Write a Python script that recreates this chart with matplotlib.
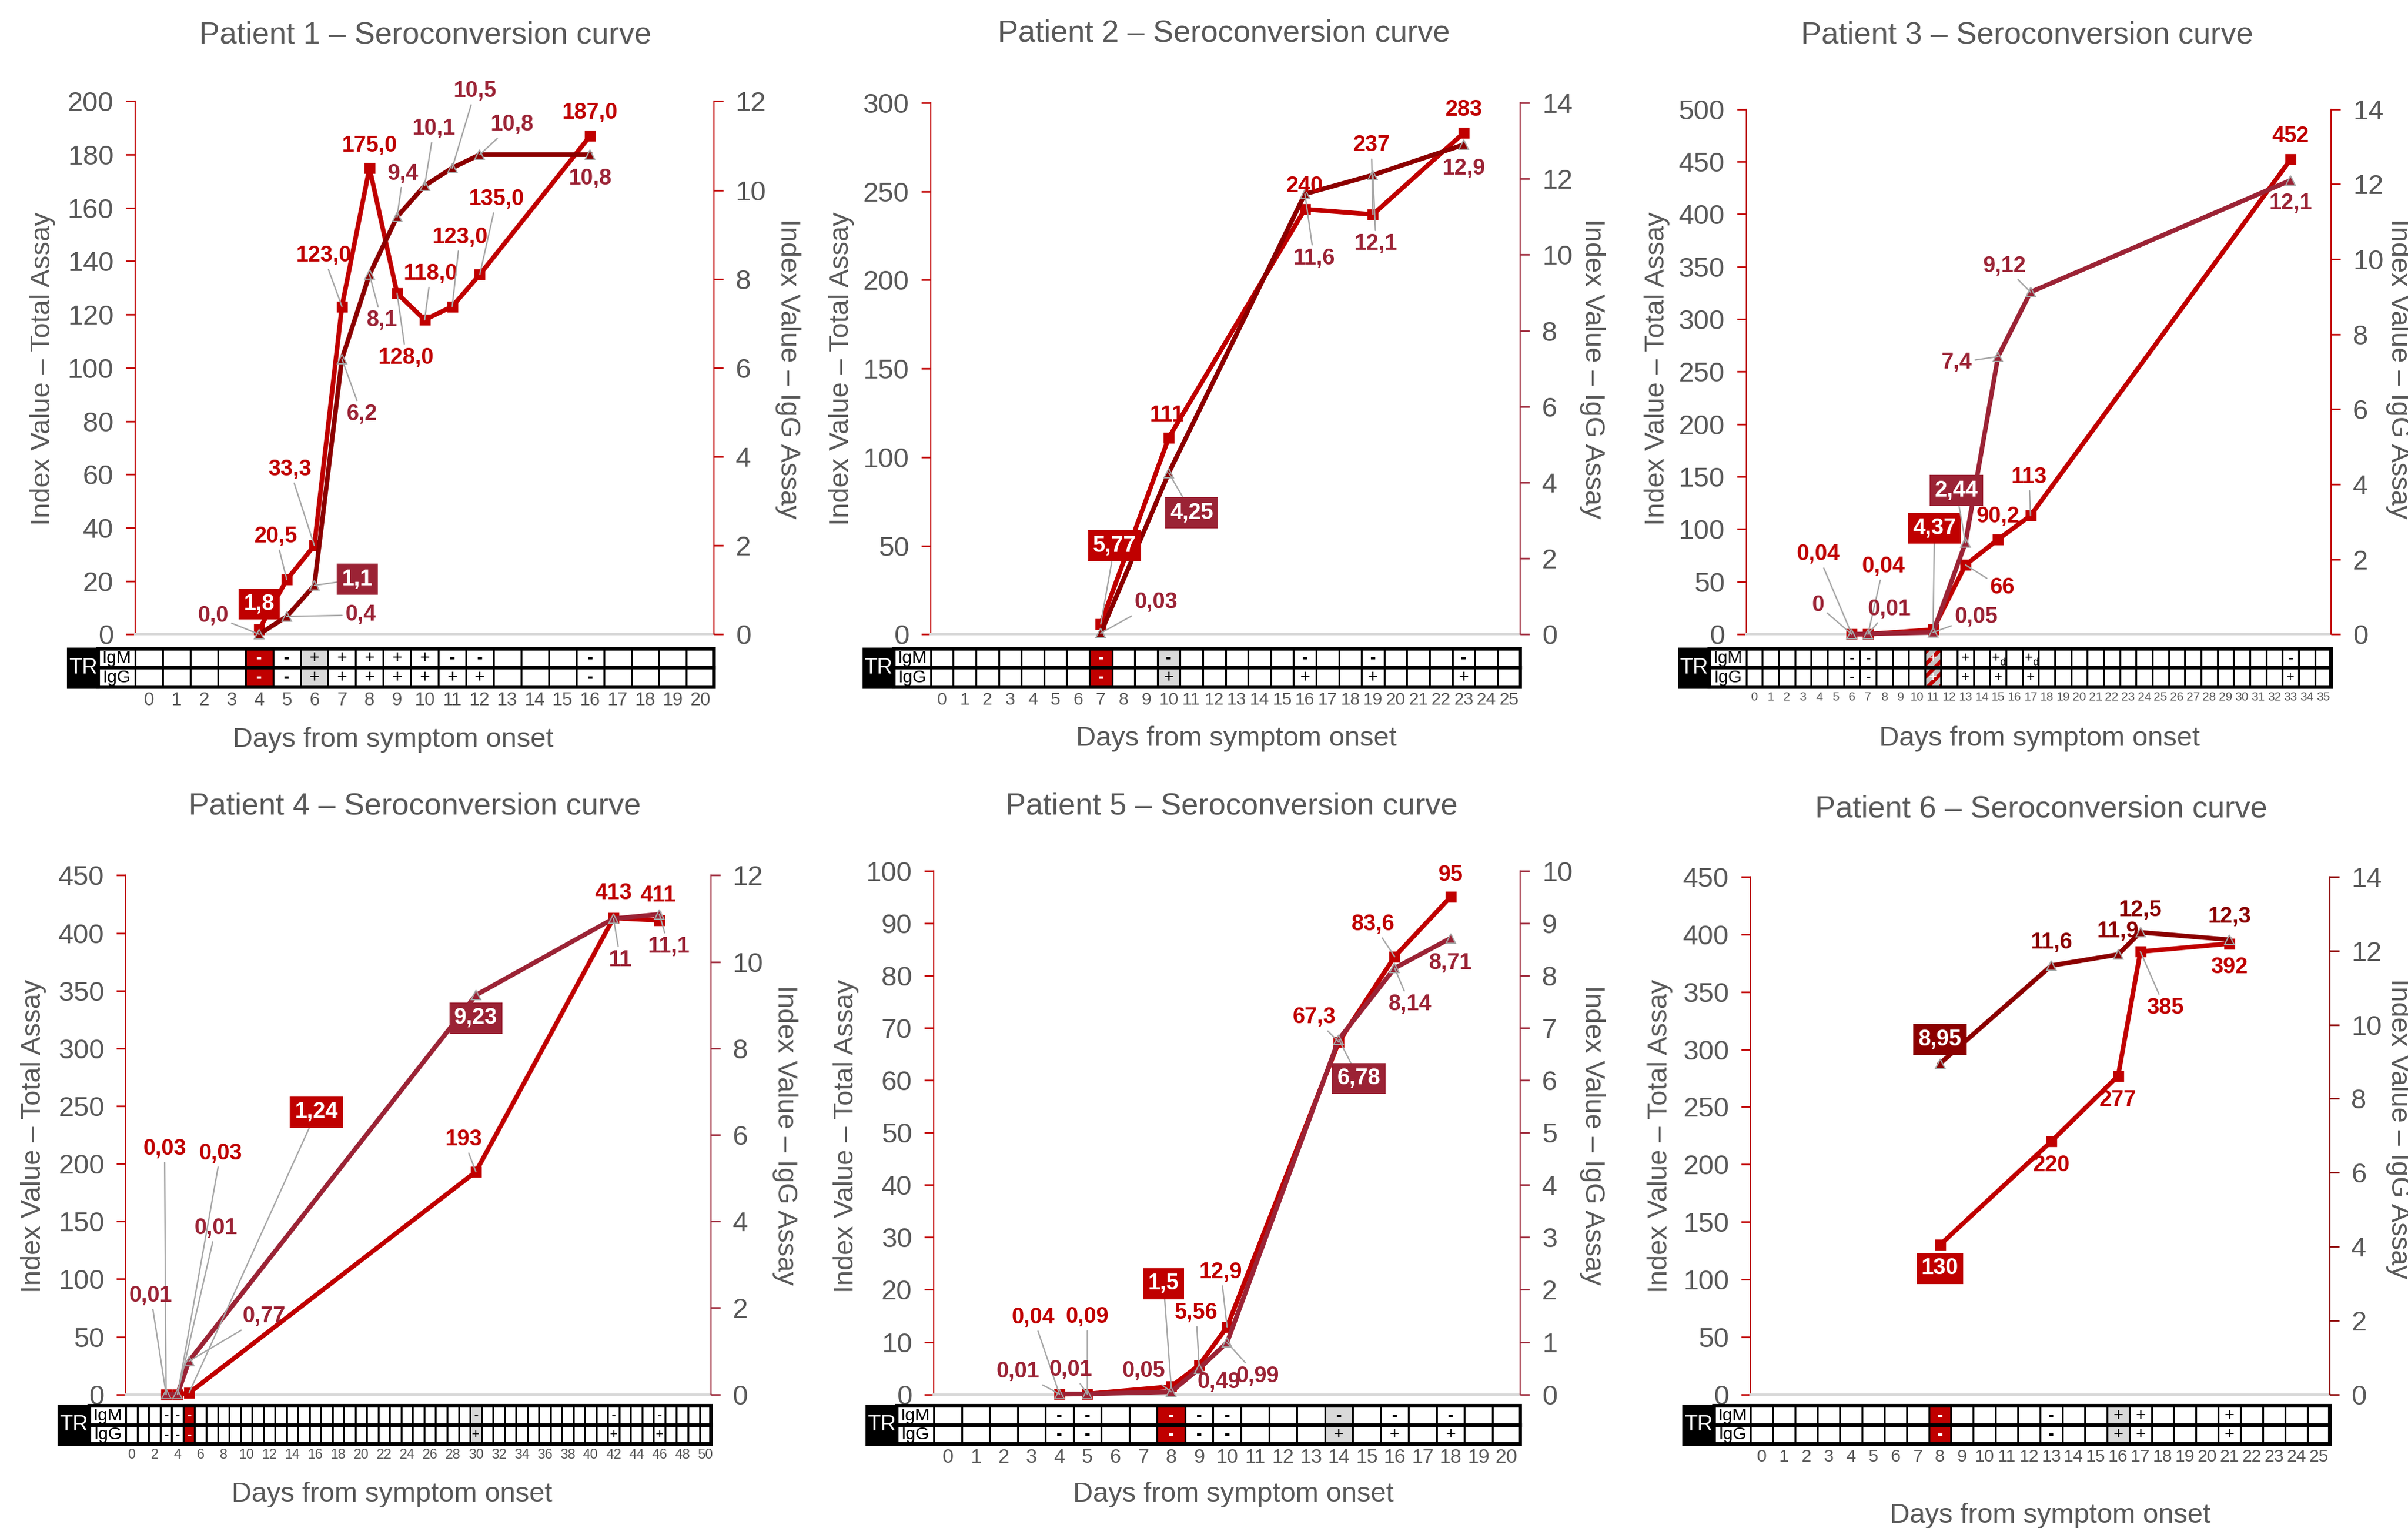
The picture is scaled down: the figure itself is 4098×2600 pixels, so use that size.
import numpy as np
import matplotlib
matplotlib.use("Agg")
import matplotlib.pyplot as plt
from matplotlib.patches import Rectangle

plt.rcParams["font.family"] = ["Liberation Sans", "DejaVu Sans"]
plt.rcParams["hatch.linewidth"] = 2.5

NARROW = ["Liberation Sans Narrow", "Liberation Sans", "DejaVu Sans"]
RED = "#C00000"
MAROON = "#9B2335"
DARK = "#8B0000"
TXT = "#595959"
LEAD = "#A6A6A6"
AXIS0 = "#D9D9D9"
CELL_GREY = "#D9D9D9"

# ---------------- data ----------------
# Patient 1
p1_days = [4, 5, 6, 7, 8, 9, 10, 11, 12, 16]
p1_total = [1.8, 20.5, 33.3, 123.0, 175.0, 128.0, 118.0, 123.0, 135.0, 187.0]
p1_igg = [0.0, 0.4, 1.1, 6.2, 8.1, 9.4, 10.1, 10.5, 10.8, 10.8]
p1_box_total_day, p1_box_igg_day = 4, 6
p1_tab_days = [4, 5, 6, 7, 8, 9, 10, 11, 12, 16]
p1_tab_igm = ["-", "-", "+", "+", "+", "+", "+", "-", "-", "-"]
p1_tab_igg = ["-", "-", "+", "+", "+", "+", "+", "+", "+", "-"]
p1_tr_day, p1_ref_day = 4, 6

# Patient 2
p2_days = [7, 10, 16, 19, 23]
p2_total = [5.77, 111, 240, 237, 283]
p2_igg = [0.03, 4.25, 11.6, 12.1, 12.9]
p2_box_total_day, p2_box_igg_day = 7, 10
p2_tab_days = [7, 10, 16, 19, 23]
p2_tab_igm = ["-", "-", "-", "-", "-"]
p2_tab_igg = ["-", "+", "+", "+", "+"]
p2_tr_day, p2_ref_day = 7, 10

# Patient 3
p3_days = [6, 7, 11, 13, 15, 17, 33]
p3_total = [0.04, 0.04, 4.37, 66, 90.2, 113, 452]
p3_igg = [0, 0.01, 0.05, 2.44, 7.4, 9.12, 12.1]
p3_box_total_day, p3_box_igg_day = 11, 13
p3_tab_days = [6, 7, 11, 13, 15, 17, 33]
p3_tab_igm = ["-", "-", "+", "+", "+d", "+d", "-"]
p3_tab_igg = ["-", "-", "+", "+", "+", "+", "+"]
p3_tr_day, p3_ref_day = 11, 11

# Patient 4
p4_days = [3, 4, 5, 30, 42, 46]
p4_total = [0.03, 0.03, 1.24, 193, 413, 411]
p4_igg = [0.01, 0.01, 0.77, 9.23, 11, 11.1]
p4_box_total_day, p4_box_igg_day = 5, 30
p4_tab_days = [3, 4, 5, 30, 42, 46]
p4_tab_igm = ["-", "-", "-", "-", "-", "-"]
p4_tab_igg = ["-", "-", "-", "+", "+", "+"]
p4_tr_day, p4_ref_day = 5, 30

# Patient 5
p5_days = [4, 5, 8, 9, 10, 14, 16, 18]
p5_total = [0.04, 0.09, 1.5, 5.56, 12.9, 67.3, 83.6, 95]
p5_igg = [0.01, 0.01, 0.05, 0.49, 0.99, 6.78, 8.14, 8.71]
p5_box_total_day, p5_box_igg_day = 8, 14
p5_tab_days = [4, 5, 8, 9, 10, 14, 16, 18]
p5_tab_igm = ["-", "-", "-", "-", "-", "-", "-", "-"]
p5_tab_igg = ["-", "-", "-", "-", "-", "+", "+", "+"]
p5_tr_day, p5_ref_day = 8, 14

# Patient 6
p6_days = [8, 13, 16, 17, 21]
p6_total = [130, 220, 277, 385, 392]
p6_igg = [8.95, 11.6, 11.9, 12.5, 12.3]
p6_box_total_day, p6_box_igg_day = 8, 8
p6_tab_days = [8, 13, 16, 17, 21]
p6_tab_igm = ["-", "-", "+", "+", "+"]
p6_tab_igg = ["-", "-", "+", "+", "+"]
p6_tr_day, p6_ref_day = 8, 16

PATIENTS = [
    (p1_days, p1_total, p1_igg, p1_box_total_day, p1_box_igg_day,
     p1_tab_days, p1_tab_igm, p1_tab_igg, p1_tr_day, p1_ref_day),
    (p2_days, p2_total, p2_igg, p2_box_total_day, p2_box_igg_day,
     p2_tab_days, p2_tab_igm, p2_tab_igg, p2_tr_day, p2_ref_day),
    (p3_days, p3_total, p3_igg, p3_box_total_day, p3_box_igg_day,
     p3_tab_days, p3_tab_igm, p3_tab_igg, p3_tr_day, p3_ref_day),
    (p4_days, p4_total, p4_igg, p4_box_total_day, p4_box_igg_day,
     p4_tab_days, p4_tab_igm, p4_tab_igg, p4_tr_day, p4_ref_day),
    (p5_days, p5_total, p5_igg, p5_box_total_day, p5_box_igg_day,
     p5_tab_days, p5_tab_igm, p5_tab_igg, p5_tr_day, p5_ref_day),
    (p6_days, p6_total, p6_igg, p6_box_total_day, p6_box_igg_day,
     p6_tab_days, p6_tab_igm, p6_tab_igg, p6_tr_day, p6_ref_day),
]

# ---------------- layout (positions in 1568x995 reference pixels, offsets in points) ----------------
LAYOUT = [
    dict(box=(88, 66, 465, 413), tab=(422.5, 447.3), title=(277, 23), xlab=(256, 482),
         ylab_l=(28, 240), ylab_r=(513, 240), xmax=20, xstep=1, daysize=12, markfs=11,
         ytot=(200, 20), yigg=(12, 2), fmt="{:.1f}", line2=DARK, lab2=MAROON, spine2=RED,
         off_tot=[(0, 16.5), (-7, 28), (-16, 49.5), (-12, 33), (0, 14.6), (6, -42), (4, 30), (5, 45), (11, 49), (0, 15)],
         off_igg=[(-30, 12), (48, 1), (28, 4), (13, -36), (8, -30), (4, 28), (6, 37), (15, 50), (21, 19.5), (0, -15.6)]),
    dict(box=(606, 67, 990, 413), tab=(422.5, 447.3), title=(797, 22), xlab=(805, 481),
         ylab_l=(548, 240), ylab_r=(1037, 240), xmax=25, xstep=1, daysize=11.5, markfs=11,
         ytot=(300, 50), yigg=(14, 2), fmt="{:g}", line2=DARK, lab2=MAROON, spine2=MAROON,
         off_tot=[(9, 51), (-1, 14.5), (0, 15), (-1, 45), (0, 15)],
         off_igg=[(36, 20), (15, -26), (6, -42), (2, -45), (0, -15.5)]),
    dict(box=(1137, 71, 1518, 413), tab=(422.5, 447.3), title=(1320, 23), xlab=(1328, 481),
         ylab_l=(1079, 240), ylab_r=(1562, 240), xmax=35, xstep=1, daysize=8, markfs=9,
         ytot=(500, 50), yigg=(14, 2), fmt="{:g}", line2=MAROON, lab2=MAROON, spine2=RED,
         off_tot=[(-22, 52), (10, 44), (1, 66), (24, -15), (0, 15), (-1, 25), (0, 15)],
         off_igg=[(-22, 19), (14, 16), (28, 10), (-6, 34), (-27, -4), (-17, 17), (0, -15)]),
    dict(box=(82, 570, 463, 908), tab=(915.5, 940.4), title=(270, 525), xlab=(255, 973),
         ylab_l=(22, 740), ylab_r=(511, 739), xmax=50, xstep=2, daysize=9, markfs=8.5,
         ytot=(450, 50), yigg=(12, 2), fmt="{:g}", line2=MAROON, lab2=MAROON, spine2=MAROON,
         off_tot=[(-1, 160), (28, 157), (83, 183), (-8, 21), (0, 16), (-1, 16)],
         off_igg=[(-10, 64), (25, 108), (49, 29), (0, -15), (4.5, -27), (6, -21)]),
    dict(box=(608, 567, 990, 908), tab=(915.5, 940.4), title=(802, 525), xlab=(803, 973),
         ylab_l=(551, 740), ylab_r=(1037, 739), xmax=20, xstep=1, daysize=13, markfs=11,
         ytot=(100, 10), yigg=(10, 1), fmt="{:g}", line2=MAROON, lab2=MAROON, spine2=MAROON,
         off_tot=[(-17, 50), (0, 50), (-5, 67), (-2, 34), (-4, 35.5), (-16, 16), (-14, 21), (0, 14.3)],
         off_igg=[(-27, 14.3), (-11, 15.5), (-18, 13.4), (13, -8.8), (20, -22), (13, -25.5), (10, -23.7), (0, -16.2)]),
    dict(box=(1140, 571, 1517, 908), tab=(915.5, 940.4), title=(1329, 527), xlab=(1335, 987),
         ylab_l=(1081, 740), ylab_r=(1562, 735), xmax=25, xstep=1, daysize=11.5, markfs=11,
         ytot=(450, 50), yigg=(14, 2), fmt="{:g}", line2=DARK, lab2=DARK, spine2=DARK,
         off_tot=[(0, -15.4), (0, -15.7), (0, -15.7), (16, -36.6), (0, -15.4)],
         off_igg=[(0, 15.7), (0, 15), (0, 15), (0, 14.5), (0, 15)]),
]

W, H = 1568.0, 995.0
DPI = 188
fig = plt.figure(figsize=(4098 / DPI, 2600 / DPI), dpi=DPI)


def rect(x0, y0, x1, y1):
    return [x0 / W, 1 - y1 / H, (x1 - x0) / W, (y1 - y0) / H]


def ftext(xy, s, **kw):
    fig.text(xy[0] / W, 1 - xy[1] / H, s, ha="center", va="center", color=TXT, **kw)


def put_label(host, xy, trans, text, off, color, boxed):
    kw = dict(xy=xy, xycoords=trans, xytext=off, textcoords="offset points",
              ha="center", va="center", fontsize=14.5, fontweight="bold",
              annotation_clip=False, zorder=6)
    if boxed:
        kw["color"] = "white"
        kw["bbox"] = dict(boxstyle="square,pad=0.22", fc=color, ec="none")
    else:
        kw["color"] = color
    if np.hypot(*off) > 18:
        kw["arrowprops"] = dict(arrowstyle="-", color=LEAD, lw=0.9, shrinkA=0, shrinkB=0)
    host.annotate(text, **kw)


def draw_mark(tab, x, y, m, color, fs):
    if m == "+d":
        tab.text(x - 0.12, y, "+", ha="center", va="center", fontsize=fs, color=color)
        tab.text(x + 0.3, y - 0.22, "d", ha="center", va="center", fontsize=fs * 0.75, color=color)
    elif m == "-":
        tab.text(x, y, "-", ha="center", va="center", fontsize=fs, fontweight="bold", color=color)
    else:
        tab.text(x, y, m, ha="center", va="center", fontsize=fs, color=color)


def draw_table(L, tab_days, tab_igm, tab_igg, tr_day, ref_day):
    x0, _, x1, _ = L["box"]
    ty0, ty1 = L["tab"]
    tab = fig.add_axes(rect(x0, ty0, x1, ty1))
    xmax = L["xmax"]
    tab.set_xlim(-0.5, xmax + 0.5)
    tab.set_ylim(0, 2)
    for s in tab.spines.values():
        s.set_visible(False)
    tab.set_yticks([])
    ticks = list(range(0, xmax + 1, L["xstep"]))
    tab.set_xticks(ticks)
    tab.set_xticklabels([str(t) for t in ticks], family=NARROW, fontsize=L["daysize"], color=TXT)
    tab.tick_params(axis="x", length=0, pad=3)

    ppd = (x1 - x0) / (xmax + 1)
    lab_w = 24 / ppd
    tr_w = 20 / ppd
    left = -0.5 - lab_w
    marks = {d: (m, g) for d, m, g in zip(tab_days, tab_igm, tab_igg)}
    for d in range(xmax + 1):
        hatched = d == tr_day and d == ref_day
        fc, tc = "white", "black"
        if hatched:
            tc = "white"
        elif d == tr_day:
            fc, tc = RED, "white"
        elif d == ref_day:
            fc = CELL_GREY
        for row in (0, 1):
            if hatched:
                tab.add_patch(Rectangle((d - 0.5, row), 1, 1, fc="#C4C4C4", ec=RED, hatch="///",
                                        lw=0, clip_on=False))
                tab.add_patch(Rectangle((d - 0.5, row), 1, 1, fill=False, ec="black", lw=1.2,
                                        clip_on=False))
            else:
                tab.add_patch(Rectangle((d - 0.5, row), 1, 1, fc=fc, ec="black", lw=1.2,
                                        clip_on=False))
        if d in marks:
            draw_mark(tab, d, 1.5, marks[d][0], tc, L["markfs"])
            draw_mark(tab, d, 0.5, marks[d][1], tc, L["markfs"])

    for row, name in ((1, "IgM"), (0, "IgG")):
        tab.add_patch(Rectangle((left, row), lab_w, 1, fc="white", ec="black", lw=1.2, clip_on=False))
        tab.text(left + lab_w / 2, row + 0.5, name, ha="center", va="center", family=NARROW,
                 fontsize=11.5, color="black")
    tab.add_patch(Rectangle((left - tr_w, -0.03), tr_w, 2.06, fc="black", ec="black", lw=1.2,
                            clip_on=False))
    tab.text(left - tr_w / 2, 1, "TR", color="white", ha="center", va="center", family=NARROW,
             fontsize=14)
    tab.add_patch(Rectangle((left, 0), xmax + 0.5 - left, 2, fill=False, ec="black", lw=2.4,
                            clip_on=False, zorder=5))
    tab.plot([left, xmax + 0.5], [1, 1], color="black", lw=2.4, clip_on=False, zorder=5)


def draw_panel(n, P, L):
    days, total, igg, box_t, box_g, tab_days, tab_igm, tab_igg, tr_day, ref_day = P
    ax = fig.add_axes(rect(*L["box"]))
    ax2 = ax.twinx()
    ax.set_xlim(-0.5, L["xmax"] + 0.5)
    ax.set_xticks([])
    ax.set_ylim(0, L["ytot"][0])
    ax.set_yticks(np.arange(0, L["ytot"][0] + 1e-9, L["ytot"][1]))
    ax2.set_ylim(0, L["yigg"][0])
    ax2.set_yticks(np.arange(0, L["yigg"][0] + 1e-9, L["yigg"][1]))
    for a in (ax, ax2):
        a.spines["top"].set_visible(False)
        a.tick_params(axis="y", direction="out", length=6, width=1.0, pad=8,
                      labelsize=18, labelcolor=TXT)
    ax.tick_params(axis="x", length=0)
    ax.spines["right"].set_visible(False)
    ax.spines["left"].set_color(RED)
    ax.spines["bottom"].set_color(AXIS0)
    ax.spines["bottom"].set_linewidth(1.5)
    ax.tick_params(axis="y", color=RED)
    ax2.spines["left"].set_visible(False)
    ax2.spines["bottom"].set_visible(False)
    ax2.spines["right"].set_color(L["spine2"])
    ax2.tick_params(axis="y", color=L["spine2"])

    ax.plot(days, total, color=RED, lw=3, marker="s", ms=6, mfc=RED, mec=RED,
            clip_on=False, zorder=3)
    ax2.plot(days, igg, color=L["line2"], lw=3, marker="^", ms=6.5, mfc=L["line2"],
             mec=LEAD, mew=0.8, clip_on=False, zorder=3)

    for d, v, off in zip(days, total, L["off_tot"]):
        put_label(ax2, (d, v), ax.transData, L["fmt"].format(v).replace(".", ","), off,
                  RED, d == box_t)
    for d, v, off in zip(days, igg, L["off_igg"]):
        put_label(ax2, (d, v), ax2.transData, L["fmt"].format(v).replace(".", ","), off,
                  L["lab2"], d == box_g)

    ftext(L["title"], f"Patient {n} \u2013 Seroconversion curve", fontsize=20)
    ftext(L["xlab"], "Days from symptom onset", fontsize=18)
    ftext(L["ylab_l"], "Index Value \u2013 Total Assay", fontsize=18, rotation=90)
    ftext(L["ylab_r"], "Index Value \u2013 IgG Assay", fontsize=18, rotation=270)

    draw_table(L, tab_days, tab_igm, tab_igg, tr_day, ref_day)


for i, (P, L) in enumerate(zip(PATIENTS, LAYOUT)):
    draw_panel(i + 1, P, L)

fig.savefig("out.png", dpi=DPI, facecolor="white")
